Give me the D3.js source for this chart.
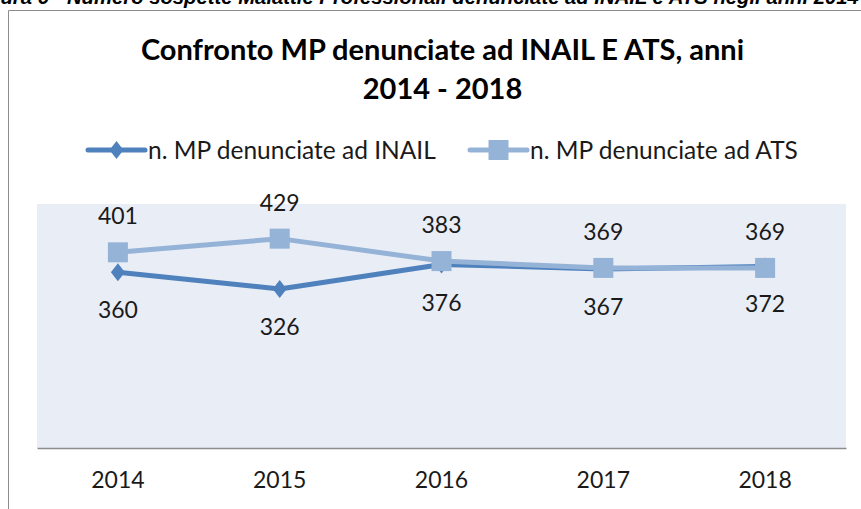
<!DOCTYPE html>
<html>
<head>
<meta charset="utf-8">
<script src="https://cdn.jsdelivr.net/npm/d3@7"></script>
<style>
  body { margin: 0; background: #fff; }
  svg { display: block; }
</style>
</head>
<body>
<svg id="chart"></svg>
<script>
// Data
const years = ["2014", "2015", "2016", "2017", "2018"];
const inail = [360, 326, 376, 367, 372];
const ats = [401, 429, 383, 369, 369];
const seriesNames = ["n. MP denunciate ad INAIL", "n. MP denunciate ad ATS"];
const titleLines = ["Confronto MP denunciate ad INAIL E ATS, anni", "2014 - 2018"];
const caption = "Figura 6 - Numero sospette Malattie Professionali denunciate ad INAIL e ATS negli anni 2014-2018";

const W = 861, H = 509;
const colInail = "#4f81bd", colAts = "#95b3d7";
const font = "Lato, 'Open Sans', sans-serif";

const svg = d3.select("#chart").attr("width", W).attr("height", H);

//Caption, cut by the top of the page
svg.append("text")
  .attr("x", -30).attr("y", 4)
  .attr("font-family", "'Liberation Sans', Arial, sans-serif")
  .attr("font-style", "italic")
  .attr("font-weight", "bold")
  .attr("font-size", 20.3)
  .attr("fill", "#000")
  .text(caption);

//Chart frame (right side runs off the page)
svg.append("path")
  .attr("d", `M8.5,${H} V10.5 H${W}`)
  .attr("fill", "none")
  .attr("stroke", "#8c8c8c")
  .attr("stroke-width", 1);

//Plot area
const plot = { left: 37, right: 846, top: 204, bottom: 448 };
const x = d3.scaleBand().domain(years).range([plot.left, plot.right]);
const y = d3.scaleLinear().domain([0, 500]).range([plot.bottom, plot.top]);
const cx = d => x(d) + x.bandwidth() / 2;

svg.append("rect")
  .attr("x", plot.left).attr("y", plot.top)
  .attr("width", plot.right - plot.left).attr("height", plot.bottom - plot.top)
  .attr("fill", "#e9edf6");

//Category axis
const xAxis = svg.append("g")
  .attr("transform", `translate(0,${plot.bottom})`)
  .call(d3.axisBottom(x).tickSize(0).tickPadding(24));
xAxis.select(".domain").attr("stroke", "#8c8c8c").attr("stroke-width", 1.5);
xAxis.selectAll("text")
  .attr("font-family", font).attr("font-size", 23).attr("fill", "#1a1a1a");

//Title
svg.append("g").selectAll("text")
  .data(titleLines)
  .join("text")
  .attr("x", (plot.left + plot.right) / 2 + 1)
  .attr("y", (d, i) => 60 + i * 39)
  .attr("text-anchor", "middle")
  .attr("font-family", font)
  .attr("font-weight", "bold")
  .attr("font-size", 29)
  .attr("fill", "#000")
  .text(d => d);

//Lines
const line = d3.line().x((d, i) => cx(years[i])).y(d => y(d));
const series = [
  { name: seriesNames[0], values: inail, color: colInail, shape: "diamond", labelDy: 46 },
  { name: seriesNames[1], values: ats, color: colAts, shape: "square", labelDy: -28 }
];

const diamond = "M0,-9 L7,0 L0,9 L-7,0 Z";
function drawMarker(g, s) {
  if (s.shape === "diamond") {
    g.append("path").attr("d", diamond).attr("fill", s.color);
  } else {
    g.append("rect").attr("x", -10).attr("y", -10).attr("width", 20).attr("height", 20).attr("fill", s.color);
  }
}

series.forEach(s => {
  const g = svg.append("g");
  g.append("path")
    .datum(s.values)
    .attr("d", line)
    .attr("fill", "none")
    .attr("stroke", s.color)
    .attr("stroke-width", 5)
    .attr("stroke-linejoin", "round");
  g.selectAll("g.pt")
    .data(s.values)
    .join("g")
    .attr("class", "pt")
    .attr("transform", (d, i) => `translate(${cx(years[i])},${y(d)})`)
    .each(function () { drawMarker(d3.select(this), s); });
});

//Data labels
series.forEach(s => {
  svg.append("g").selectAll("text")
    .data(s.values)
    .join("text")
    .attr("x", (d, i) => cx(years[i]))
    .attr("y", d => y(d) + s.labelDy)
    .attr("text-anchor", "middle")
    .attr("font-family", font)
    .attr("font-size", 23)
    .attr("fill", "#1a1a1a")
    .text(d => d);
});

//Legend
const legendX = [88, 470];
const legend = svg.append("g").selectAll("g")
  .data(series)
  .join("g")
  .attr("transform", (d, i) => `translate(${legendX[i]},150)`);
legend.append("line")
  .attr("x1", 0).attr("x2", 57)
  .attr("stroke", d => d.color)
  .attr("stroke-width", 5)
  .attr("stroke-linecap", "round");
legend.append("g")
  .attr("transform", "translate(28.5,0)")
  .each(function (d) { drawMarker(d3.select(this), d); });
legend.append("text")
  .attr("x", 60).attr("y", 8.5)
  .attr("font-family", font)
  .attr("font-size", 24.5)
  .attr("fill", "#1a1a1a")
  .text(d => d.name);
</script>
</body>
</html>
